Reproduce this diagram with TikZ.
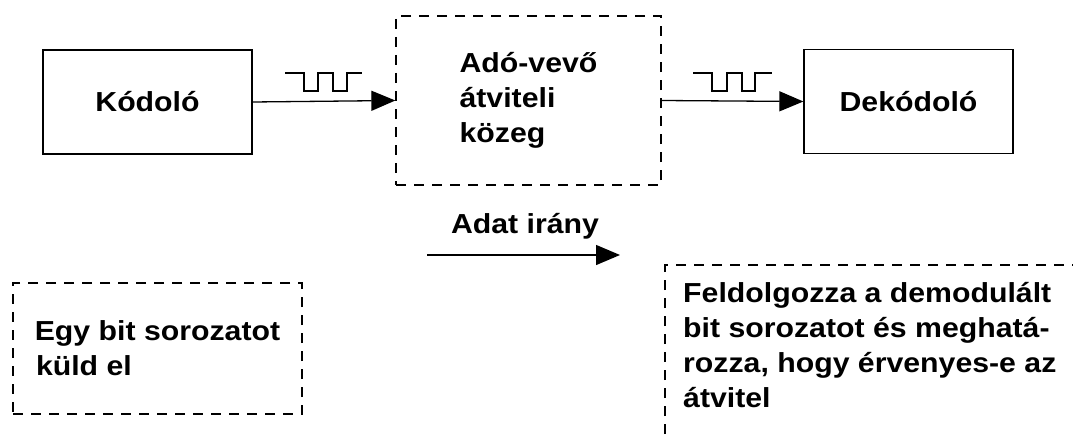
\documentclass[tikz,border=0pt]{standalone}
\usepackage{fontspec}
\setmainfont{Liberation Sans}[FakeStretch=1.1]
\usetikzlibrary{arrows.meta}
\begin{document}
\begin{tikzpicture}[x=1pt,y=-1pt,
  txt/.style={font=\fontsize{27.5}{35}\selectfont\bfseries, inner sep=0pt},
  solidbox/.style={draw, line width=1.3pt, minimum width=209pt, minimum height=104pt, inner sep=0pt, font=\fontsize{27.5}{35}\selectfont\bfseries},
  dashbox/.style={draw, line width=1.3pt, dash pattern=on 10pt off 8pt, inner sep=0pt, align=left, font=\fontsize{27.5}{35}\selectfont\bfseries},
  link/.style={line width=1.3pt, -{Triangle[length=24pt,width=20pt]}},
  wave/.style={line width=1.3pt}]
\useasboundingbox (0,0) rectangle (1073,436);
\clip (0,0) rectangle (1073,436);
% top row
\node[solidbox] (kod) at (147.5,102) {Kódoló};
\node[dashbox, minimum width=265pt, minimum height=169pt] (adv) at (528.5,100.5) {Adó-vevő\\átviteli\\közeg};
\node[solidbox] (dek) at (908.5,101.5) {Dekódoló};
\draw[link] (kod.east) -- (adv.west);
\draw[link] (adv.east) -- (dek.west);
% square waves
\draw[wave] (285,73) -- (304,73) -- (304,91) -- (318,91) -- (318,73) -- (333,73) -- (333,91) -- (347,91) -- (347,73) -- (362,73);
\draw[wave] (693,73) -- (712,73) -- (712,91) -- (727,91) -- (727,73) -- (742,73) -- (742,91) -- (755,91) -- (755,73) -- (772,73);
% data direction
\coordinate (dirA) at (427,255);
\coordinate (dirB) at (620,255);
\draw[link] (dirA) -- (dirB);
\node[txt, anchor=base] (dirlbl) at (525,233) {Adat irány};
% bottom-left box
\node[dashbox, align=center, minimum width=289pt, minimum height=131pt] (send) at (157.5,348.5) {Egy bit sorozatot\\\makebox[243pt][l]{küld el}};
% bottom-right box (cut off by the picture edge)
\draw[line width=1.3pt, dash pattern=on 10pt off 8pt] (665,470) -- (665,265) -- (1100,265);
\node[txt, anchor=base west] (r1) at (683,302) {Feldolgozza a demodulált};
\node[txt, anchor=base west] (r2) at (683,337) {bit sorozatot és meghatá-};
\node[txt, anchor=base west] (r3) at (683,372) {rozza, hogy érvenyes-e az};
\node[txt, anchor=base west] (r4) at (683,407) {átvitel};
\end{tikzpicture}
\end{document}
